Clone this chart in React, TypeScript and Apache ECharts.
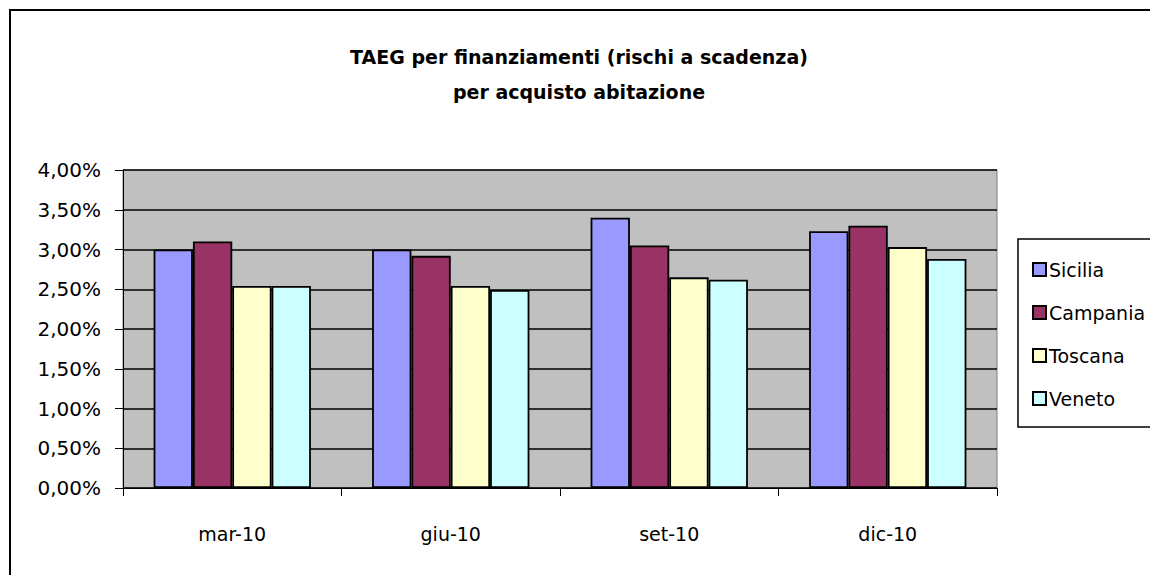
import React, { useEffect, useRef } from "react";
import * as echarts from "echarts";

const categories = ["mar-10", "giu-10", "set-10", "dic-10"];
const sicilia = [3.0, 3.0, 3.4, 3.23];
const campania = [3.1, 2.92, 3.05, 3.3];
const toscana = [2.54, 2.54, 2.65, 3.03];
const veneto = [2.54, 2.49, 2.62, 2.88];
const seriesNames = ["Sicilia", "Campania", "Toscana", "Veneto"];
const seriesColors = ["#9999FF", "#993366", "#FFFFCC", "#CCFFFF"];
const titleLines = ["TAEG per finanziamenti (rischi a scadenza)", "per acquisto abitazione"];

const FONT = "'Comic Sans MS', 'DejaVu Sans', sans-serif";

export default function App() {
  const ref = useRef<HTMLDivElement>(null);
  useEffect(() => {
    if (!ref.current) return;
    const chart = echarts.init(ref.current, undefined, { renderer: "svg" });
    const values = [sicilia, campania, toscana, veneto];
    chart.setOption({
      animation: false,
      backgroundColor: "#ffffff",
      textStyle: { fontFamily: FONT, color: "#000" },
      title: {
        text: titleLines.join("\n"),
        left: 574,
        top: 34,
        textAlign: "center",
        textStyle: { fontFamily: FONT, fontSize: 19, fontWeight: "bold", lineHeight: 35, color: "#000" },
      },
      graphic: [
        {
          type: "rect",
          shape: { x: 10, y: 10, width: 1200, height: 600 },
          style: { fill: "none", stroke: "#000", lineWidth: 2 },
          z: -1,
        },
        {
          type: "rect",
          shape: { x: 1018, y: 239, width: 200, height: 188 },
          style: { fill: "#fff", stroke: "#000", lineWidth: 1.5 },
          z: 0,
        },
      ],
      legend: {
        orient: "vertical",
        left: 1027,
        top: 255,
        itemWidth: 13,
        itemHeight: 13,
        itemGap: 24,
        icon: "rect",
        z: 5,
        textStyle: { fontFamily: FONT, fontSize: 19, color: "#000", padding: [0, 0, 0, -2] },
        data: seriesNames,
      },
      grid: {
        left: 123,
        right: 153,
        top: 170,
        bottom: 87,
        show: true,
        backgroundColor: "#C0C0C0",
        borderColor: "#808080",
        borderWidth: 1,
      },
      xAxis: {
        type: "category",
        data: categories,
        axisLine: { lineStyle: { color: "#000", width: 1 } },
        axisTick: { show: true, length: 8, lineStyle: { color: "#000" } },
        axisLabel: { fontFamily: FONT, fontSize: 19, color: "#000", margin: 36 },
      },
      yAxis: {
        type: "value",
        min: 0,
        max: 4,
        interval: 0.5,
        axisLine: { show: true, lineStyle: { color: "#000", width: 1 } },
        axisTick: { show: true, length: 8, lineStyle: { color: "#000" } },
        axisLabel: {
          fontFamily: FONT,
          fontSize: 20,
          color: "#000",
          margin: 22,
          formatter: (v: number) => v.toFixed(2).replace(".", ",") + "%",
        },
        splitLine: { show: true, lineStyle: { color: "#000", width: 1.5 } },
      },
      series: seriesNames.map((name, i) => ({
        name,
        type: "bar",
        data: values[i],
        barGap: "0%",
        barCategoryGap: "28%",
        itemStyle: { color: seriesColors[i], borderColor: "#000", borderWidth: 1.8 },
      })),
    });
    return () => chart.dispose();
  }, []);
  return <div ref={ref} style={{ position: "fixed", left: 0, top: 0, width: 1150, height: 575 }} />;
}
